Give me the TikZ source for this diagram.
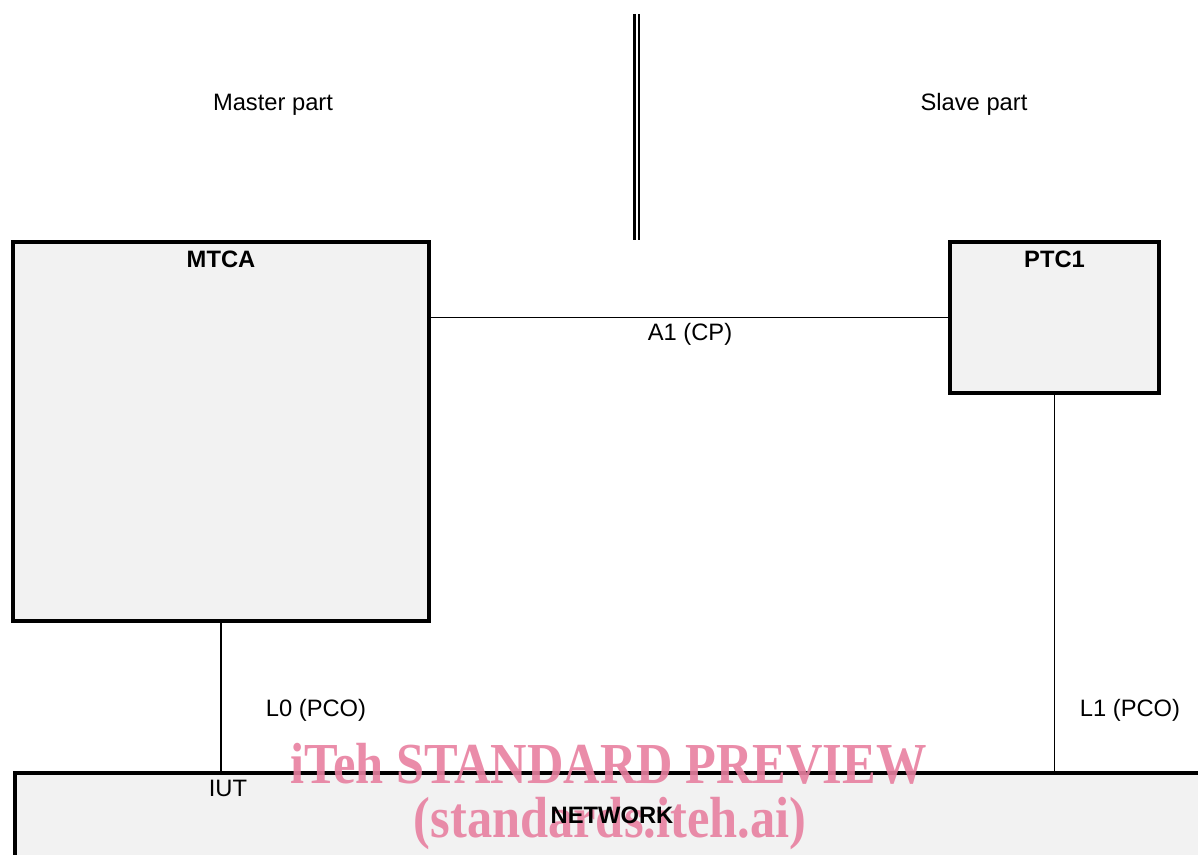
\documentclass[tikz,border=0pt]{standalone}
\usepackage{fontspec}
\setmainfont{Liberation Sans}
\newfontfamily\wmfont{Liberation Serif}
\usepackage{xcolor}
\usetikzlibrary{positioning,calc}

\definecolor{boxgray}{RGB}{242,242,242}
\definecolor{wmpink}{RGB}{232,128,160}

\begin{document}
\begin{tikzpicture}[
    box/.style={draw=black, fill=boxgray, line width=2.2pt, inner sep=0pt},
    wire/.style={line width=1.1pt},
    txt/.style={font=\fontsize{13.5}{16}\selectfont, anchor=base, inner sep=0pt},
    boxtitle/.style={txt, font=\fontsize{13.5}{16}\selectfont\bfseries},
    wmark/.style={font=\wmfont\bfseries\fontsize{33}{36}\selectfont, text=wmpink, text opacity=0.9, anchor=base, inner sep=0pt, xscale=0.87}
  ]
  \useasboundingbox (0, 0) rectangle (23.96, 17.08);
  \clip (0, 0) rectangle (23.96, 17.08);

  % Master / slave separator
  \draw[line width=1.5pt] (12.69, 16.80) -- (12.69, 12.28);
  \draw[line width=1.5pt] (12.78, 16.80) -- (12.78, 12.28);
  \node[txt] (master) at (5.46, 14.86) {Master part};
  \node[txt] (slave) at (19.48, 14.86) {Slave part};

  % Test components
  \node[box, minimum width=8.32cm, minimum height=7.58cm] (mtca) at (4.42, 8.45) {};
  \node[boxtitle] (mtcatitle) at (4.42, 11.72) {MTCA};
  \node[box, minimum width=4.18cm, minimum height=3.02cm] (ptc1) at (21.09, 10.73) {};
  \node[boxtitle] (ptc1title) at (21.09, 11.72) {PTC1};

  % Network
  \node[box, anchor=north west, minimum width=26cm, minimum height=3cm] (network) at (0.26, 1.66) {};
  \node[txt] (iut) at (4.56, 1.16) {IUT};

  % Connections
  \draw[wire] (ptc1.west) -- (ptc1.west -| mtca.east);
  \node[txt] (a1) at (13.80, 10.26) {A1 (CP)};
  \draw[wire] (mtca.south) -- (mtca.south |- network.north);
  \node[txt] (l0) at (6.32, 2.76) {L0 (PCO)};
  \draw[wire] (ptc1.south) -- (ptc1.south |- network.north);
  \node[txt] (l1) at (22.60, 2.76) {L1 (PCO)};

  % Watermark
  \node[wmark] (wm1) at (12.17, 1.42) {iTeh STANDARD PREVIEW};
  \node[wmark] (wm2) at (12.20, 0.34) {(standards.iteh.ai)};
  \node[boxtitle] (nettitle) at (12.24, 0.62) {NETWORK};
\end{tikzpicture}
\end{document}
